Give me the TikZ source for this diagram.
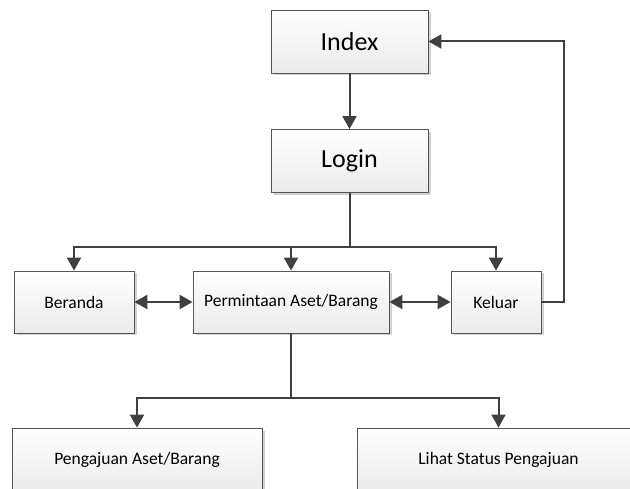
\documentclass[tikz,border=0pt]{standalone}
\usepackage{fontspec}
\setmainfont{Carlito}
\usetikzlibrary{arrows.meta,shadows}
\definecolor{garis}{HTML}{404040}
\definecolor{tepi}{HTML}{555555}
\tikzset{
  blok/.style={draw=tepi, line width=0.8pt, top color=white, bottom color=gray!16,
    drop shadow={shadow xshift=2.5pt, shadow yshift=-2.5pt, fill=gray!45, opacity=0.8},
    font=\fontsize{17.5}{20}\selectfont, inner sep=0pt},
  blokbesar/.style={blok, font=\fontsize{26}{28}\selectfont},
  panah/.style={draw=garis, line width=2pt, -{Triangle[width=14pt,length=13pt]}},
  panahdua/.style={draw=garis, line width=2pt, {Triangle[width=14pt,length=13pt]}-{Triangle[width=14pt,length=13pt]}},
  garisbus/.style={draw=garis, line width=2pt}
}
\begin{document}
\begin{tikzpicture}[x=1pt,y=-1pt]
    \useasboundingbox (0,0) rectangle (630,489);
    \clip (0,0) rectangle (630,489);
    \node[blokbesar, minimum width=157pt, minimum height=63pt] (index) at (349.5,41.5) {Index};
    \node[blokbesar, minimum width=157pt, minimum height=63pt] (login) at (349.5,161) {Login};
    \node[blok, minimum width=120pt, minimum height=62pt] (beranda) at (74,302) {Beranda};
    \node[blok, minimum width=196pt, minimum height=62pt] (minta) at (291,302) {Permintaan Aset/Barang};
    \node[blok, minimum width=90pt, minimum height=62pt] (keluar) at (496,302) {Keluar};
    \node[blok, minimum width=250pt, minimum height=64pt] (ajukan) at (137,460) {Pengajuan Aset/Barang};
    \node[blok, minimum width=283pt, minimum height=64pt] (status) at (498.5,460) {Lihat Status Pengajuan};
    % menu utama
    \coordinate (bus) at (349.5,247);
    \coordinate (cabang) at (291,398);
    \draw[panah] (index) -- (login);
    \draw[garisbus] (login.south) -- (bus);
    \draw[panah] (bus) -| (beranda.north);
    \draw[panah] (bus) -| (keluar.north);
    \draw[panah] (minta.north |- bus) -- (minta.north);
    \draw[panahdua] (beranda) -- (minta);
    \draw[panahdua] (minta) -- (keluar);
    \draw[panah] (keluar.east) -- ++(23,0) |- (index.east);
    % sub menu permintaan
    \draw[garisbus] (minta.south) -- (cabang);
    \draw[panah] (cabang) -| (ajukan.north);
    \draw[panah] (cabang) -| (status.north);
\end{tikzpicture}
\end{document}
